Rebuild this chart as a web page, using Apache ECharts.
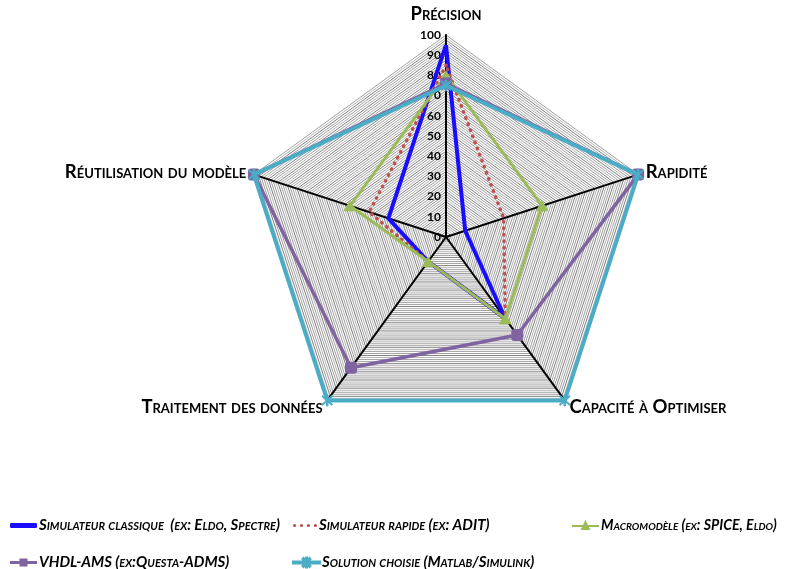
<!DOCTYPE html>
<html>
<head>
<meta charset="utf-8">
<script src="https://cdn.jsdelivr.net/npm/echarts@6/dist/echarts.min.js"></script>
<style>html,body{margin:0;padding:0;background:#fff}#c{width:786px;height:569px}</style>
</head>
<body>
<div id="c"></div>
<script>
// Categories in clockwise order starting at the top
const categories = ['Précision', 'Rapidité', 'Capacité à Optimiser', 'Traitement des données', 'Réutilisation du modèle'];
const axisTicks = [0, 10, 20, 30, 40, 50, 60, 70, 80, 90, 100];

const seriesNames = [
  'Simulateur classique  (ex: Eldo, Spectre)',
  'Simulateur rapide (ex: ADIT)',
  'Macromodèle (ex: SPICE, Eldo)',
  'VHDL-AMS (ex:Questa-ADMS)',
  'Solution choisie (Matlab/Simulink)'
];
const simClassique = [95, 10, 50, 15, 30];
const simRapide    = [85, 30, 50, 15, 40];
const macromodele  = [80, 50, 50, 15, 50];
const vhdlAms      = [76, 100, 60, 80, 100];
const solution     = [75, 100, 100, 100, 100];

// ECharts lays radar indicators counter-clockwise: reorder to get a clockwise layout
const order = [0, 4, 3, 2, 1];
const reorder = arr => order.map(i => arr[i]);

const maxV = axisTicks[axisTicks.length - 1];
const indicatorMain = order.map((i, k) => {
  const o = { name: categories[i], max: maxV, min: 0 };
  if (k === 0) { o.axisLabel = { show: true }; o.nameGap = 11; }
  return o;
});
const indicatorHatch = order.map(i => ({ name: categories[i], max: maxV, min: 0 }));

const CENTER = [446, 237];
const RADIUS = 202;

const colors = ['#1a0dff', '#c0504d', '#9bbb59', '#8064a2', '#4bacc6'];

const starPath = 'path://M0,4H27V6H0Z M13,0H14V10H13Z M9.5,1.5L10.5,0.5L17.5,8.5L16.5,9.5Z M16.5,0.5L17.5,1.5L10.5,9.5L9.5,8.5Z';
const asteriskMarker = 'path://M4.4,0H5.6V10H4.4Z M0.6,1.4L1.4,0.6L9.4,8.6L8.6,9.4Z M8.6,0.6L9.4,1.4L1.4,9.4L0.6,8.6Z';

const legendFont = { fontFamily: 'Lato', fontStyle: 'italic small-caps', fontWeight: 'bold', fontSize: 15, color: '#000' };

const legendDefs = [
  { icon: 'roundRect', w: 27, h: 5, left: 10, top: 518, fs: 15 },
  { icon: 'path://M0,1.5A1.5,1.5 0 1 1 3,1.5A1.5,1.5 0 1 1 0,1.5Z M6.5,1.5A1.5,1.5 0 1 1 9.5,1.5A1.5,1.5 0 1 1 6.5,1.5Z M13,1.5A1.5,1.5 0 1 1 16,1.5A1.5,1.5 0 1 1 13,1.5Z M19.5,1.5A1.5,1.5 0 1 1 22.5,1.5A1.5,1.5 0 1 1 19.5,1.5Z', w: 24, h: 3.5, left: 293, top: 518, fs: 15 },
  { icon: 'path://M0,5L11,5L13.5,0L16,5L27,5L27,7L17,7L18.5,10L8.5,10L10,7L0,7Z', w: 27, h: 11, left: 572, top: 518, fs: 14.2 },
  { icon: 'path://M0,2.5H9.5V0H17.5V2.5H27V5.5H17.5V8H9.5V5.5H0Z', w: 27, h: 10, left: 10, top: 555, fs: 15 },
  { icon: starPath, w: 27, h: 10, left: 292, top: 555, fs: 15 }
];

const legends = legendDefs.map((d, i) => ({
  data: [{ name: seriesNames[i], icon: d.icon }],
  left: d.left, top: d.top,
  itemWidth: d.w, itemHeight: d.h, itemGap: 0,
  padding: 0,
  textStyle: Object.assign({ padding: [0, 0, 0, -3] }, legendFont, { fontSize: d.fs }),
  selectedMode: false
}));

const chart = echarts.init(document.getElementById('c'), null, { renderer: 'canvas' });
chart.setOption({
  animation: false,
  backgroundColor: '#fff',
  legend: legends,
  radar: [
    {
      center: CENTER, radius: RADIUS, startAngle: 90, shape: 'polygon',
      indicator: indicatorHatch,
      splitNumber: 80,
      axisName: { show: false },
      axisLine: { show: false },
      axisTick: { show: false },
      axisLabel: { show: false },
      splitArea: { show: false },
      splitLine: { lineStyle: { color: ['#a0a0a0', '#a0a0a0', '#808080', '#b4b4b4'], width: 1 } },
      silent: true
    },
    {
      center: CENTER, radius: RADIUS, startAngle: 90, shape: 'polygon',
      indicator: indicatorMain,
      splitNumber: axisTicks.length - 1,
      nameGap: 8,
      axisName: {
        color: '#000', fontFamily: 'Lato', fontWeight: 'bold', fontStyle: 'small-caps', fontSize: 18.5
      },
      axisLine: { lineStyle: { color: '#000', width: 2 } },
      axisTick: { show: false },
      axisLabel: { show: false, color: '#000', fontFamily: 'Lato', fontWeight: 'bold', fontSize: 12, margin: 5 },
      splitArea: { show: false },
      splitLine: { show: false }
    }
  ],
  series: [
    {
      type: 'radar', radarIndex: 1, name: seriesNames[0], z: 3,
      symbol: 'none',
      itemStyle: { color: colors[0] },
      lineStyle: { color: colors[0], width: 4 },
      data: [{ value: reorder(simClassique), name: seriesNames[0] }]
    },
    {
      type: 'radar', radarIndex: 1, name: seriesNames[1], z: 4,
      symbol: 'none',
      itemStyle: { color: colors[1] },
      lineStyle: { color: colors[1], width: 3.5, type: [0.5, 6], cap: 'round' },
      data: [{ value: reorder(simRapide), name: seriesNames[1] }]
    },
    {
      type: 'radar', radarIndex: 1, name: seriesNames[2], z: 5,
      symbol: 'triangle', symbolSize: [13, 11],
      itemStyle: { color: colors[2] },
      lineStyle: { color: colors[2], width: 3 },
      data: [{ value: reorder(macromodele), name: seriesNames[2] }]
    },
    {
      type: 'radar', radarIndex: 1, name: seriesNames[3], z: 6,
      symbol: 'roundRect', symbolSize: 12,
      itemStyle: { color: colors[3] },
      lineStyle: { color: colors[3], width: 3.5 },
      data: [{ value: reorder(vhdlAms), name: seriesNames[3] }]
    },
    {
      type: 'radar', radarIndex: 1, name: seriesNames[4], z: 7,
      symbol: asteriskMarker, symbolSize: 11,
      itemStyle: { color: colors[4], borderColor: colors[4], borderWidth: 1 },
      lineStyle: { color: colors[4], width: 4 },
      data: [{ value: reorder(solution), name: seriesNames[4] }]
    }
  ]
});
</script>
</body>
</html>
